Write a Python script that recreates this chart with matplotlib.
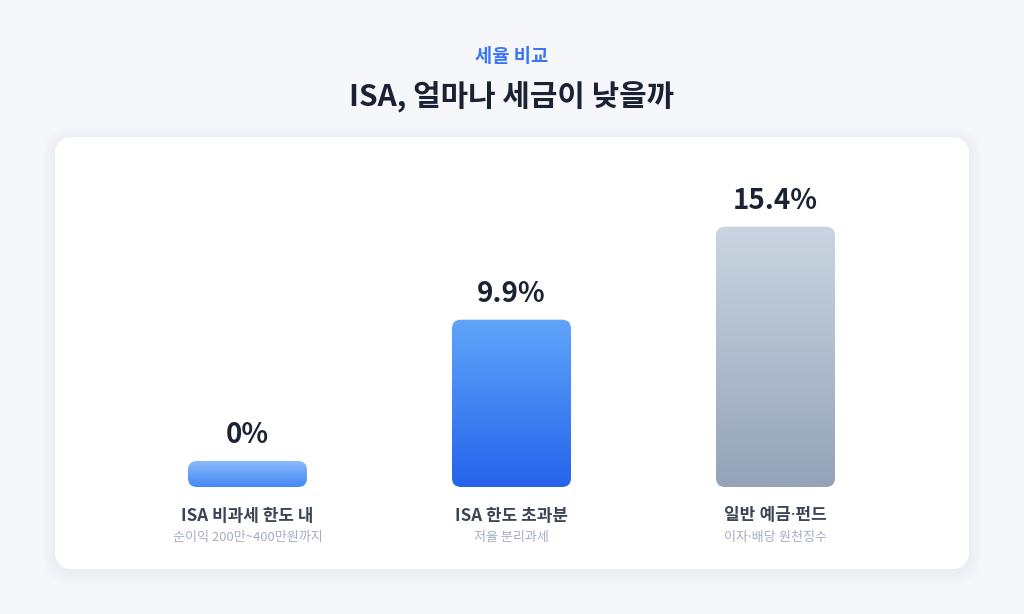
import matplotlib
matplotlib.use("Agg")
import matplotlib.pyplot as plt
import numpy as np
from matplotlib.patches import FancyBboxPatch
from matplotlib.colors import LinearSegmentedColormap

plt.rcParams['font.family'] = ['Noto Sans CJK KR', 'DejaVu Sans']

# ---- data ----
categories = ["ISA 비과세 한도 내", "ISA 한도 초과분", "일반 예금·펀드"]
subtitles = ["순이익 200만~400만원까지", "저율 분리과세", "이자·배당 원천징수"]
rates = [0.0, 9.9, 15.4]
value_labels = ["0%", "9.9%", "15.4%"]
kicker = "세율 비교"
title = "ISA, 얼마나 세금이 낮을까"


def fam(s):
    # narrow middle dot from Noto Sans, Hangul from Noto Sans CJK KR
    return ['Noto Sans', 'Noto Sans CJK KR'] if '·' in s else ['Noto Sans CJK KR', 'DejaVu Sans']


# ---- styles ----
grads = [("#8bbaf9", "#4388f4"), ("#60a5fa", "#2563eb"), ("#cbd5e1", "#94a3b8")]
W, H = 1024, 614
fig = plt.figure(figsize=(W / 100, H / 100), dpi=100)
fig.patch.set_facecolor("#f6f7fa")

bg = fig.add_axes([0, 0, 1, 1])
bg.set_xlim(0, W)
bg.set_ylim(H, 0)
bg.axis("off")
bg.set_zorder(0)

# card shadow
for i in range(6):
    g = 2 + i * 2
    bg.add_patch(FancyBboxPatch((55 - g, 137 - g + 3), 914 + 2 * g, 432 + 2 * g,
                                boxstyle=f"round,pad=0,rounding_size={18 + g}",
                                fc="#64748b", ec="none", alpha=0.008))
bg.add_patch(FancyBboxPatch((55, 137), 914, 432,
                            boxstyle="round,pad=0,rounding_size=18",
                            fc="white", ec="none"))

bg.text(W / 2, 57, kicker, ha="center", va="center", fontsize=13.5,
        fontweight="bold", color="#3b76f6")
bg.text(W / 2, 96, title, ha="center", va="center", fontsize=21.5,
        fontweight="bold", color="#1a2233")

# ---- data axes ----
base_px = 487
top_px = 150
u = 16.9  # px per percentage point
left_px, right_px = 55, 969
spacing = 264
c0 = 247.5
ax = fig.add_axes([left_px / W, (H - base_px) / H, (right_px - left_px) / W,
                   (base_px - top_px) / H])
ax.axis("off")
ax.patch.set_alpha(0)
ax.set_zorder(2)

bar_w = 119 / spacing
min_h = 26 / u
radius = 9 / spacing
aspect = spacing / u

for i, (v, (ctop, cbot)) in enumerate(zip(rates, grads)):
    h = max(v, min_h)
    x0 = i - bar_w / 2
    patch = FancyBboxPatch((x0, 0), bar_w, h,
                           boxstyle=f"round,pad=0,rounding_size={radius}",
                           mutation_aspect=aspect, fc="none", ec="none")
    ax.add_patch(patch)
    cmap = LinearSegmentedColormap.from_list("g", [cbot, ctop])
    grad = np.linspace(0, 1, 256).reshape(-1, 1)
    im = ax.imshow(grad, cmap=cmap, origin="lower", aspect="auto",
                   extent=(x0, x0 + bar_w, 0, h), zorder=2)
    im.set_clip_path(patch)
    ax.annotate(value_labels[i], xy=(i, h), xytext=(0, 26),
                textcoords="offset pixels", ha="center", va="center",
                fontsize=20, fontweight="bold", color="#1a2233",
                annotation_clip=False)
    ax.annotate(categories[i], xy=(i, 0), xytext=(0, -29),
                textcoords="offset pixels", ha="center", va="center",
                fontsize=12.2, fontweight="bold", color="#3a4556",
                family=fam(categories[i]), annotation_clip=False)
    ax.annotate(subtitles[i], xy=(i, 0), xytext=(0, -50),
                textcoords="offset pixels", ha="center", va="center",
                fontsize=9.4, color="#a3aebf", family=fam(subtitles[i]),
                annotation_clip=False)

ax.set_xlim(-(c0 - left_px) / spacing, (right_px - c0) / spacing)
ax.set_ylim(0, (base_px - top_px) / u)

fig.savefig("out.png", dpi=100, facecolor=fig.get_facecolor())
